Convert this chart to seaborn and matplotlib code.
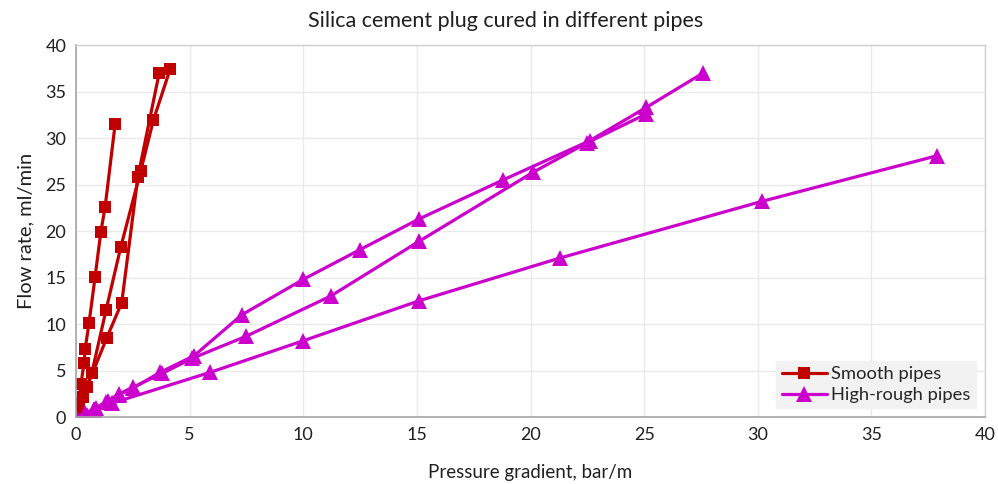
import matplotlib
matplotlib.use("Agg")
import matplotlib.pyplot as plt
import seaborn as sns
import pandas as pd

# Smooth pipes: three flow tests (pressure gradient bar/m, flow rate ml/min)
smooth_1_x = [0, 0.05, 0.12, 0.22, 0.35, 0.40, 0.57, 0.84, 1.09, 1.28, 1.72]
smooth_1_y = [0, 0.5, 1.5, 3.6, 5.8, 7.3, 10.1, 15.1, 19.9, 22.6, 31.5]
smooth_2_x = [0, 0.10, 0.30, 0.69, 1.32, 1.97, 2.85, 3.40, 4.14]
smooth_2_y = [0, 0.8, 2.2, 4.7, 11.5, 18.3, 26.5, 31.9, 37.4]
smooth_3_x = [0, 0.15, 0.47, 1.35, 2.01, 2.72, 3.66]
smooth_3_y = [0, 1.0, 3.2, 8.5, 12.3, 25.8, 37.0]

# High-rough pipes: three flow tests
rough_1_x = [0, 0.4, 0.8, 1.4, 1.9, 2.5, 3.7, 5.2, 7.3, 10.0, 12.5, 15.1, 18.8, 22.6, 25.1, 27.6]
rough_1_y = [0, 0.3, 0.9, 1.7, 2.4, 3.1, 4.8, 6.6, 11.0, 14.8, 18.0, 21.3, 25.5, 29.7, 33.3, 37.0]
rough_2_x = [0, 0.5, 0.8, 1.3, 1.9, 2.5, 3.8, 5.1, 7.5, 11.2, 15.1, 20.1, 22.5, 25.1]
rough_2_y = [0, 0.2, 0.8, 1.6, 2.5, 3.2, 4.7, 6.3, 8.7, 13.0, 18.9, 26.3, 29.5, 32.6]
rough_3_x = [0, 0.4, 0.9, 1.6, 5.9, 10.0, 15.1, 21.3, 30.2, 37.9]
rough_3_y = [0, 0.4, 1.0, 1.5, 4.8, 8.2, 12.5, 17.1, 23.2, 28.1]

series = [
    ("Smooth pipes", "s1", smooth_1_x, smooth_1_y),
    ("Smooth pipes", "s2", smooth_2_x, smooth_2_y),
    ("Smooth pipes", "s3", smooth_3_x, smooth_3_y),
    ("High-rough pipes", "r1", rough_1_x, rough_1_y),
    ("High-rough pipes", "r2", rough_2_x, rough_2_y),
    ("High-rough pipes", "r3", rough_3_x, rough_3_y),
]

rows = []
for group, test, xs, ys in series:
    for x, y in zip(xs, ys):
        rows.append({"pipe": group, "test": test,
                     "Pressure gradient": x, "Flow rate": y})
df = pd.DataFrame(rows)

sns.set_theme(style="white")
plt.rcParams["font.family"] = ["Lato", "DejaVu Sans"]

fig = plt.figure(figsize=(9.98, 4.84), dpi=100)
ax = fig.add_axes([0.0762, 0.1384, 0.9108, 0.7686])

palette = {"Smooth pipes": "#C00000", "High-rough pipes": "#CC00CC"}
markers = {"Smooth pipes": "s", "High-rough pipes": "^"}

sns.lineplot(data=df, x="Pressure gradient", y="Flow rate", hue="pipe",
             style="pipe", units="test", estimator=None, sort=False,
             palette=palette, markers=markers, dashes=False,
             linewidth=2.3, markersize=9, markeredgewidth=0, ax=ax,
             legend=True)

# triangles a little larger than the squares
for ln in ax.lines:
    if ln.get_marker() == "^":
        ln.set_markersize(11)

ax.set_xlim(0, 40)
ax.set_ylim(0, 40)
ax.set_xticks(range(0, 41, 5))
ax.set_yticks(range(0, 41, 5))
ax.grid(True, color="#EAEAEA", linewidth=1)
ax.set_axisbelow(True)
for side in ["top", "right"]:
    ax.spines[side].set_color("#D0D0D0")
    ax.spines[side].set_linewidth(1)
for side in ["left", "bottom"]:
    ax.spines[side].set_color("#A6A6A6")
    ax.spines[side].set_linewidth(1.2)
ax.tick_params(axis="both", length=0, labelsize=13, colors="#202020", pad=7)

ax.set_xlabel("Pressure gradient, bar/m", fontsize=13.5, color="#202020", labelpad=15)
ax.set_ylabel("Flow rate, ml/min", fontsize=14.5, color="#202020", labelpad=8)
fig.text(0.507, 0.956, "Silica cement plug cured in different pipes",
         ha="center", va="center", fontsize=15.5, color="#202020")

handles, labels = ax.get_legend_handles_labels()
for h in handles:
    if h.get_marker() == "^":
        h.set_markersize(11)
leg = ax.legend(handles, labels, loc="lower right", bbox_to_anchor=(0.99, 0.023),
                frameon=True, fancybox=False, fontsize=13.2, handlelength=2.5,
                borderpad=0.3, labelspacing=0.25, handletextpad=0.2,
                borderaxespad=0)
leg.get_frame().set_facecolor("#F2F2F2")
leg.get_frame().set_edgecolor("#F2F2F2")
leg.get_frame().set_alpha(1)

fig.savefig("out.png", dpi=100)
